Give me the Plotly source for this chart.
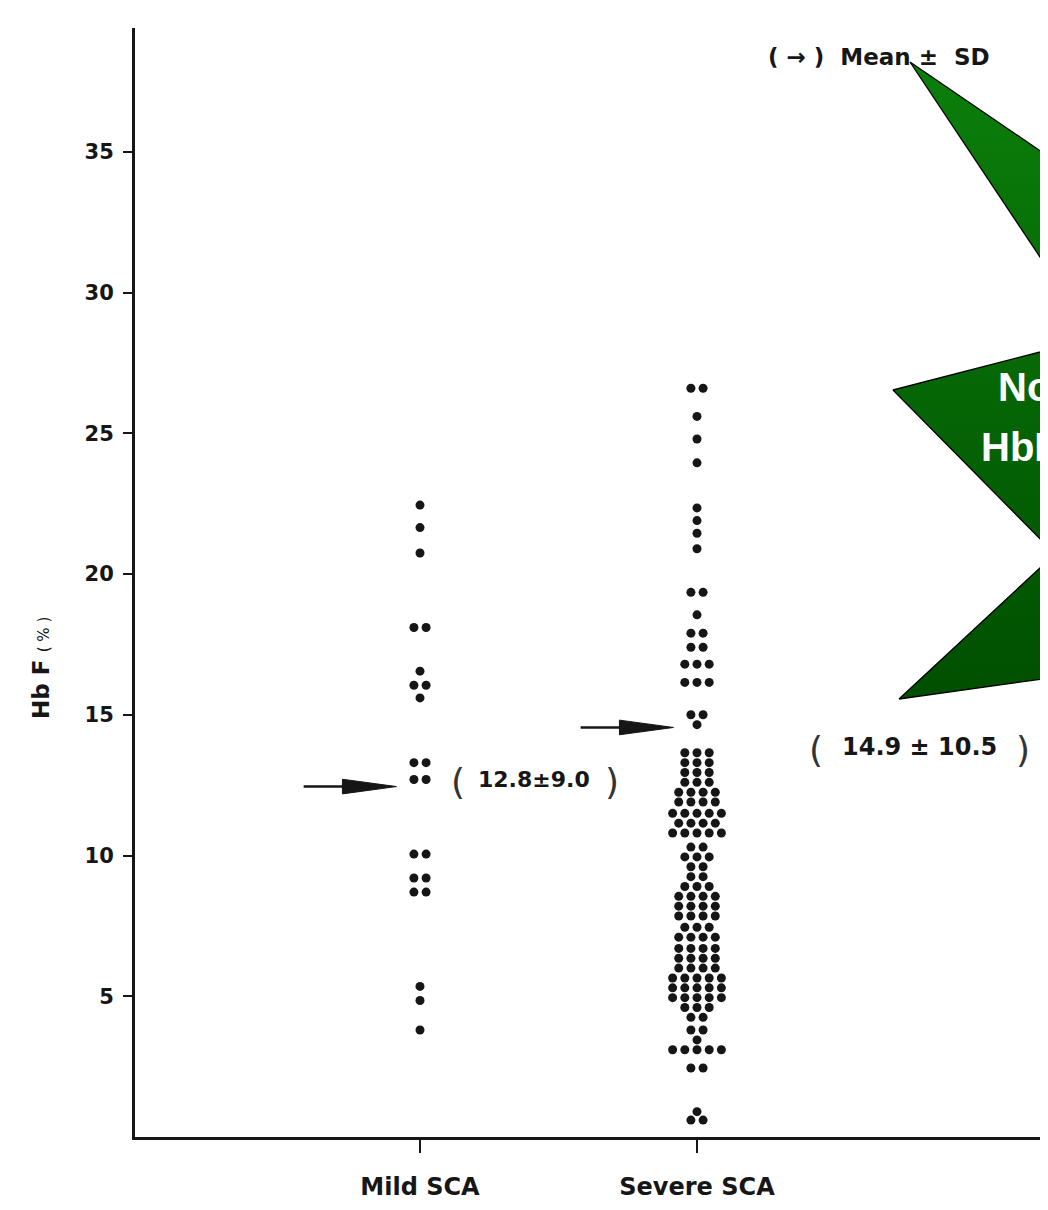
import plotly.graph_objects as go
from collections import Counter

# ---------------- data ----------------
categories = ["Mild SCA", "Severe SCA"]
category_pos = [1, 2]

mild_hbf = [22.45, 21.65, 20.75, 18.1, 18.1, 16.55, 16.05, 16.05, 15.6,
            13.3, 13.3, 12.7, 12.7, 10.05, 10.05, 9.2, 9.2, 8.7, 8.7,
            5.35, 4.85, 3.8]

severe_hbf = (
    [26.6] * 2 + [25.6] + [24.8] + [23.95] + [22.35] + [21.9] + [21.45] + [20.9]
    + [19.35] * 2 + [18.55] + [17.9] * 2 + [17.4] * 2 + [16.8] * 3 + [16.15] * 3
    + [15.0] * 2 + [14.65]
    + [13.65] * 3 + [13.3] * 3 + [12.95] * 3 + [12.6] * 3 + [12.25] * 4
    + [11.9] * 4 + [11.5] * 5 + [11.15] * 4 + [10.8] * 5
    + [10.3] * 2 + [9.95] * 3 + [9.6] * 2 + [9.25] * 2
    + [8.9] * 3 + [8.55] * 4 + [8.2] * 4 + [7.85] * 4
    + [7.45] * 3 + [7.1] * 4 + [6.7] * 4 + [6.35] * 4 + [6.0] * 4
    + [5.65] * 5 + [5.3] * 5 + [4.95] * 5 + [4.6] * 3 + [4.25] * 2
    + [3.8] * 2 + [3.45] + [3.1] * 5 + [2.45] * 2
    + [0.9] + [0.6] * 2
)

arrow_levels = [12.45, 14.55]          # where the mean arrows point
mean_labels = ["12.8±9.0", "14.9 ± 10.5"]
ytick_vals = [5, 10, 15, 20, 25, 30, 35]

# ---------------- geometry (page pixels; page has an 8px body margin) ----------------
OFF = 8
W, H = 1048 - OFF, 1210 - OFF
PL, PR, PT, PB = 135, 1048, 28, 1137     # plot area edges in page pixels
ML, MR, MT = PL - OFF, 0, PT - OFF
MB = H - (PB - OFF)
PW, PH = PR - PL, PB - PT
PX_PER_CAT = 277.0
x_lo = 1 - (420 - PL) / PX_PER_CAT
x_hi = x_lo + PW / PX_PER_CAT
y_hi = 39.4

def px2x(px):
    return x_lo + (px - PL) / PW * (x_hi - x_lo)

def py2y(py):
    return (PB - py) / PH * y_hi

def swarm(values, center, step=0.044):
    counts = Counter(values)
    seen = {}
    xs = []
    for v in values:
        n = counts[v]
        i = seen.get(v, 0)
        seen[v] = i + 1
        xs.append(center + (i - (n - 1) / 2) * step)
    return xs

INK = "#161616"
FONT = "DejaVu Sans"

fig = go.Figure()

for vals, c in zip([mild_hbf, severe_hbf], category_pos):
    fig.add_trace(go.Scatter(
        x=swarm(vals, c), y=vals, mode="markers",
        marker=dict(size=9, color=INK, line=dict(width=0)),
        cliponaxis=False, hoverinfo="y", showlegend=False))

# ---------------- green star callout ----------------
star_px = [(910, 62), (1094, 338), (893, 390), (1055, 554), (899, 699),
           (1250, 650), (1250, 294), (910, 62)]
fig.add_trace(go.Scatter(
    x=[px2x(p[0]) for p in star_px], y=[py2y(p[1]) for p in star_px],
    mode="lines", fill="toself",
    fillgradient=dict(type="vertical",
                      colorscale=[[0, "#004f00"], [1, "#0b7f0b"]]),
    line=dict(color="black", width=1.3), hoverinfo="skip", showlegend=False))

# ---------------- mean arrows ----------------
shapes = []
for c, lvl in zip(category_pos, arrow_levels):
    tail, base, tip = c - 0.42, c - 0.28, c - 0.085
    shapes.append(dict(type="line", xref="x", yref="y", x0=tail, x1=base + 0.02,
                       y0=lvl, y1=lvl, line=dict(color=INK, width=2.5)))
    shapes.append(dict(type="path", xref="x", yref="y",
                       path=f"M {base},{lvl + 0.26} L {tip},{lvl} L {base},{lvl - 0.26} Z",
                       fillcolor=INK, line=dict(color=INK, width=1)))

def ann(px, py, text, size, bold=True, color=INK, family=FONT, xanchor="center"):
    f = dict(family=family, size=size, color=color)
    if bold:
        f["weight"] = "bold"
    return dict(x=px2x(px), y=py2y(py), text=text, showarrow=False, xref="x", yref="y",
                xanchor=xanchor, font=f)

annotations = [
    # mild label
    ann(458, 781, "(", 36, bold=False, color="#333"),
    ann(534, 779, mean_labels[0], 22),
    ann(612, 781, ")", 36, bold=False, color="#333"),
    # severe label
    ann(816, 749, "(", 36, bold=False, color="#333"),
    ann(919, 747, mean_labels[1], 24),
    ann(1023, 749, ")", 36, bold=False, color="#333"),
    # legend note
    ann(879, 57, "( → )  Mean ±  SD", 23),
    # star text (cut off by the page edge, as in the original)
    ann(996, 387, "Note", 40, color="white", family="Liberation Sans", xanchor="left"),
    ann(979, 447, "HbF", 40, color="white", family="Liberation Sans", xanchor="left"),
]
# y-axis title
annotations.append(dict(
    x=(41 - PL) / PW, y=(PB - 668) / PH, xref="paper", yref="paper",
    xanchor="center", yanchor="middle",
    text="<b>Hb F</b> <span style='font-size:15px'>( % )</span>",
    textangle=-90, showarrow=False,
    font=dict(family=FONT, size=23, color=INK)))

fig.update_layout(
    width=W, height=H,
    margin=dict(l=ML, r=MR, t=MT, b=MB, pad=0),
    plot_bgcolor="white", paper_bgcolor="white",
    showlegend=False,
    shapes=shapes, annotations=annotations,
    xaxis=dict(range=[x_lo, x_hi], tickvals=category_pos, ticktext=categories,
               ticks="outside", ticklen=13, tickwidth=2, tickcolor=INK,
               showline=True, linewidth=3, linecolor=INK,
               showgrid=False, zeroline=False, ticklabelstandoff=13,
               tickfont=dict(family=FONT, size=24, color=INK, weight="bold")),
    yaxis=dict(range=[0, y_hi], tickvals=ytick_vals,
               ticks="outside", ticklen=9, tickwidth=2, tickcolor=INK,
               showline=True, linewidth=3, linecolor=INK,
               showgrid=False, zeroline=False, ticklabelstandoff=5,
               tickfont=dict(family=FONT, size=21, color=INK, weight="bold")),
)

fig.write_html("out.html")
